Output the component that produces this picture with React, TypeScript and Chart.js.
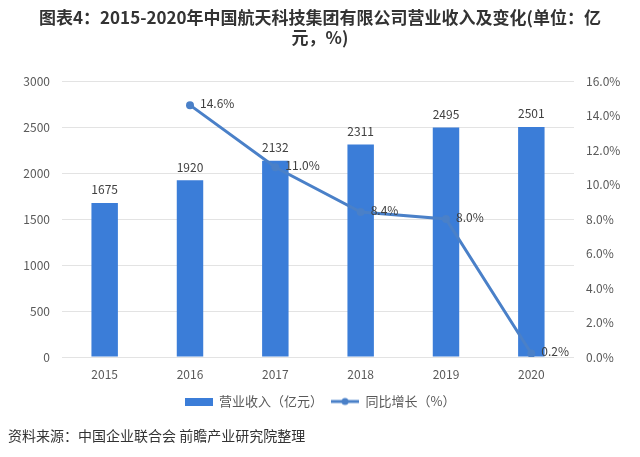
import { useEffect, useRef } from 'react';
import { Chart, registerables } from 'chart.js';

Chart.register(...registerables);

const years = ['2015', '2016', '2017', '2018', '2019', '2020'];
const revenue = [1675, 1920, 2132, 2311, 2495, 2501];
const growth: (number | null)[] = [null, 14.6, 11.0, 8.4, 8.0, 0.2];
const titleLines = ['图表4：2015-2020年中国航天科技集团有限公司营业收入及变化(单位：亿', '元，%)'];
const legendLabels = ['营业收入（亿元）', '同比增长（%）'];
const sourceText = '资料来源：中国企业联合会 前瞻产业研究院整理';

const BAR = '#3B7DD8';
const LINE = '#4A80C8';
const FONT = '"Noto Sans CJK SC", "Noto Sans", sans-serif';
const TEXT = '#595959';

export default function App() {
  const ref = useRef<HTMLCanvasElement | null>(null);

  useEffect(() => {
    if (!ref.current) return;

    const barImg = document.createElement('canvas');
    barImg.width = 28;
    barImg.height = 8;
    const bctx = barImg.getContext('2d')!;
    bctx.fillStyle = BAR;
    bctx.fillRect(0, 0, 28, 8);

    const lineImg = document.createElement('canvas');
    lineImg.width = 28;
    lineImg.height = 10;
    const lctx = lineImg.getContext('2d')!;
    lctx.strokeStyle = LINE;
    lctx.lineWidth = 3;
    lctx.beginPath();
    lctx.moveTo(0, 5);
    lctx.lineTo(28, 5);
    lctx.stroke();
    lctx.fillStyle = LINE;
    lctx.beginPath();
    lctx.arc(14, 5, 3.5, 0, Math.PI * 2);
    lctx.fill();

    const textPlugin = {
      id: 'texts',
      afterDraw(chart: any) {
        const ctx = chart.ctx;
        ctx.save();
        ctx.fillStyle = '#333333';
        ctx.font = `bold 17px ${FONT}`;
        ctx.textAlign = 'center';
        ctx.textBaseline = 'middle';
        ctx.fillText(titleLines[0], 320, 18);
        ctx.fillText(titleLines[1], 320, 38);
        ctx.font = `14px ${FONT}`;
        ctx.textAlign = 'left';
        ctx.fillStyle = '#333333';
        ctx.fillText(sourceText, 8, 436);
        ctx.restore();
      },
      afterDatasetsDraw(chart: any) {
        const ctx = chart.ctx;
        ctx.save();
        ctx.font = `12px ${FONT}`;
        ctx.fillStyle = '#404040';
        ctx.textBaseline = 'middle';
        const barMeta = chart.getDatasetMeta(0);
        ctx.textAlign = 'center';
        barMeta.data.forEach((el: any, i: number) => {
          ctx.fillText(String(revenue[i]), el.x, el.y - 13);
        });
        const lineMeta = chart.getDatasetMeta(1);
        ctx.textAlign = 'left';
        lineMeta.data.forEach((el: any, i: number) => {
          const v = growth[i];
          if (v == null) return;
          ctx.fillText(v.toFixed(1) + '%', el.x + 10, el.y - 2);
        });
        ctx.restore();
      },
    };

    const chart = new Chart(ref.current, {
      type: 'bar',
      data: {
        labels: years,
        datasets: [
          {
            type: 'bar',
            label: legendLabels[0],
            data: revenue,
            backgroundColor: BAR,
            barPercentage: 0.31,
            categoryPercentage: 1,
            yAxisID: 'y',
            order: 2,
          },
          {
            type: 'line',
            label: legendLabels[1],
            data: growth,
            borderColor: LINE,
            backgroundColor: LINE,
            borderWidth: 3,
            pointRadius: 4,
            pointBackgroundColor: LINE,
            pointBorderWidth: 0,
            tension: 0,
            yAxisID: 'y1',
            order: 1,
          } as any,
        ],
      },
      options: {
        responsive: true,
        maintainAspectRatio: false,
        animation: false,
        layout: { padding: { top: 81, bottom: 39, left: 0, right: 0 } },
        plugins: {
          tooltip: { enabled: false },
          title: { display: false },
          legend: {
            display: true,
            position: 'bottom',
            labels: {
              usePointStyle: true,
              pointStyleWidth: 28,
              padding: 8,
              color: TEXT,
              font: { family: FONT, size: 13 },
              generateLabels: () => [
                { text: legendLabels[0], pointStyle: barImg as any, fillStyle: BAR, strokeStyle: BAR, lineWidth: 0, hidden: false, datasetIndex: 0, fontColor: TEXT },
                { text: legendLabels[1], pointStyle: lineImg as any, fillStyle: LINE, strokeStyle: LINE, lineWidth: 0, hidden: false, datasetIndex: 1, fontColor: TEXT },
              ],
            },
          },
        },
        scales: {
          x: {
            grid: { display: false },
            border: { display: false },
            ticks: { color: TEXT, font: { family: FONT, size: 12 }, padding: 2 },
            afterFit: (s: any) => { s.height = 30; },
          },
          y: {
            position: 'left',
            min: 0,
            max: 3000,
            ticks: {
              stepSize: 500,
              color: TEXT,
              font: { family: FONT, size: 12 },
              padding: 12,
              callback: (v: any) => String(v),
            },
            grid: { color: '#E3E3E3', drawTicks: false },
            border: { display: false },
            afterFit: (s: any) => { s.width = 62; },
          },
          y1: {
            position: 'right',
            min: 0,
            max: 16,
            ticks: {
              stepSize: 2,
              color: TEXT,
              font: { family: FONT, size: 12 },
              padding: 12,
              callback: (v: any) => Number(v).toFixed(1) + '%',
            },
            grid: { display: false, drawTicks: false },
            border: { display: false },
            afterFit: (s: any) => { s.width = 66; },
          },
        },
      },
      plugins: [textPlugin],
    });

    return () => chart.destroy();
  }, []);

  return (
    <div style={{ position: 'fixed', left: 0, top: 0, width: 640, height: 457, background: '#fff' }}>
      <canvas ref={ref} />
    </div>
  );
}
